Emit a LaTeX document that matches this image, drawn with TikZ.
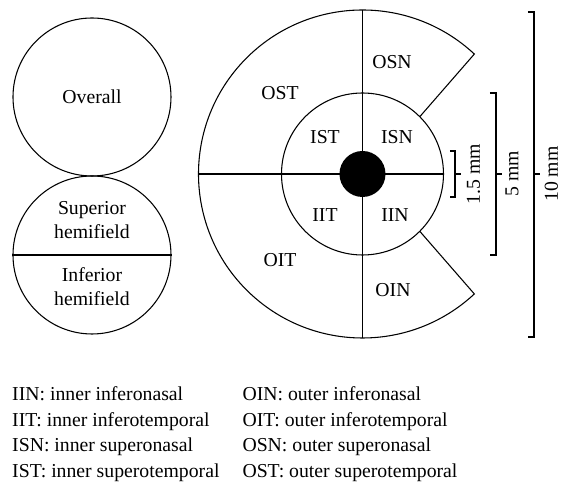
\documentclass[tikz,border=0pt]{standalone}
\usepackage{fontspec}
\setmainfont{Liberation Serif}

\tikzset{
  campo/.style={draw, circle, minimum size=118.5pt, inner sep=0pt},
  leyenda/.style={anchor=base west, inner sep=0pt},
  medida/.style={rotate=90, inner sep=0pt}
}

\begin{document}
\begin{tikzpicture}[x=0.75pt, y=0.75pt, line width=0.8pt, font=\fontsize{14.8}{18}\selectfont]
        \useasboundingbox (-362.5,-314) rectangle (199.5,174);

        % Circulos de la izquierda
        \node[campo] (overall) at (-270.5,77) {Overall};
        \node[campo] (hemi) at (-270.5,-81) {};
        \draw (hemi.west) -- (hemi.east);
        \node[align=center] (sup) at (-270.5,-46) {Superior\\hemifield};
        \node[align=center] (inf) at (-270.5,-112.5) {Inferior\\hemifield};

        % Anillos
        \draw (45:81) -- (47:164) arc (47:313:164) -- (-45:81);
        \draw (0,0) circle (81);
        \draw (0,164) -- (0,-164);
        \draw (-164,0) -- (81,0);
        \fill (0,0) circle (23);

        % Sectores
        \node (ost) at (-82.5,81) {OST};
        \node (osn) at (29.5,112) {OSN};
        \node (ist) at (-37.5,37) {IST};
        \node (isn) at (34.5,37) {ISN};
        \node (iit) at (-37.5,-41) {IIT};
        \node (iin) at (32.5,-41) {IIN};
        \node (oit) at (-82.5,-86) {OIT};
        \node (oin) at (30.5,-116) {OIN};

        % Corchetes
        \draw (87.5,23) -- (92.5,23) -- (92.5,-23) -- (87.5,-23);
        \draw (92.5,0) -- (99,0);
        \node[medida] (m1) at (111,0) {1.5 mm};
        \draw (127.5,81) -- (133.5,81) -- (133.5,-81) -- (127.5,-81);
        \draw (133.5,0) -- (140,0);
        \node[medida] (m2) at (149.5,0) {5 mm};
        \draw (165.5,162) -- (171.5,162) -- (171.5,-163) -- (165.5,-163);
        \draw (171.5,0) -- (178,0);
        \node[medida] (m3) at (189,0) {10 mm};

        % Leyenda
        \node[leyenda] (l1) at (-350.8,-226.7) {IIN: inner inferonasal};
        \node[leyenda] (l2) at (-350.8,-252.4) {IIT: inner inferotemporal};
        \node[leyenda] (l3) at (-350.8,-278) {ISN: inner superonasal};
        \node[leyenda] (l4) at (-350.8,-303.7) {IST: inner superotemporal};
        \node[leyenda] (r1) at (-120.5,-226.7) {OIN: outer inferonasal};
        \node[leyenda] (r2) at (-120.5,-252.4) {OIT: outer inferotemporal};
        \node[leyenda] (r3) at (-120.5,-278) {OSN: outer superonasal};
        \node[leyenda] (r4) at (-120.5,-303.7) {OST: outer superotemporal};

    \end{tikzpicture}
\end{document}
